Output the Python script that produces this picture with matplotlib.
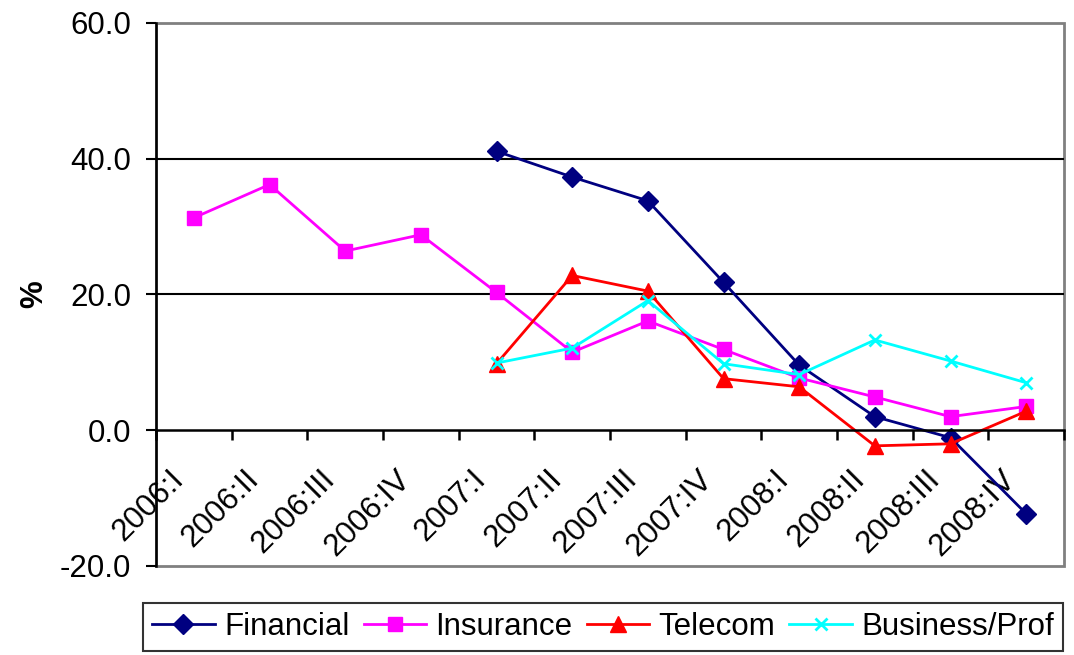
import numpy as np
import matplotlib.pyplot as plt
import matplotlib.transforms as mtransforms
from matplotlib.patches import Rectangle

plt.rcParams['font.family'] = ['Liberation Sans', 'DejaVu Sans']

quarters = ["2006:I", "2006:II", "2006:III", "2006:IV",
            "2007:I", "2007:II", "2007:III", "2007:IV",
            "2008:I", "2008:II", "2008:III", "2008:IV"]

nan = np.nan
financial = [nan, nan, nan, nan, 41.1, 37.3, 33.8, 21.8, 9.6, 2.0, -1.1, -12.3]
insurance = [31.3, 36.2, 26.4, 28.8, 20.3, 11.5, 16.1, 11.9, 7.7, 4.9, 2.0, 3.5]
telecom = [nan, nan, nan, nan, 9.8, 22.8, 20.5, 7.6, 6.4, -2.3, -2.0, 2.8]
business = [nan, nan, nan, nan, 9.9, 12.1, 19.1, 9.8, 8.2, 13.3, 10.2, 7.0]

yticks = [-20, 0, 20, 40, 60]
fs = 22.5

x = np.arange(len(quarters))

fig = plt.figure(figsize=(10.74, 6.55), dpi=100)
ax = fig.add_axes([0.1453, 0.1359, 0.8454, 0.829])

ax.plot(x, financial, color="#000080", marker="D", markersize=10, lw=2, label="Financial")
ax.plot(x, insurance, color="#FF00FF", marker="s", markersize=9.5, lw=2, label="Insurance")
ax.plot(x, telecom, color="#FF0000", marker="^", markersize=11, lw=2, label="Telecom")
ax.plot(x, business, color="#00FFFF", marker="x", markersize=9, mew=2, lw=2, label="Business/Prof")

ax.set_xlim(-0.5, len(quarters) - 0.5)
ax.set_ylim(-20, 60)
ax.set_yticks(yticks)
ax.set_yticklabels(["%.1f" % v for v in yticks], fontsize=fs)
for g in [20, 40]:
    ax.axhline(g, color="black", lw=1.5, zorder=0.5)

# category axis crosses at zero
ax.spines["bottom"].set_position(("data", 0))
ax.spines["bottom"].set_linewidth(1.8)
ax.spines["left"].set_linewidth(1.8)
for s in ["top", "right"]:
    ax.spines[s].set_visible(False)
ax.add_patch(Rectangle((0, 0), 1, 1, transform=ax.transAxes, fill=False,
                       edgecolor="#808080", lw=2, clip_on=False, zorder=0.4))

ax.set_xticks(x)
ax.set_xticklabels(quarters, fontsize=fs, rotation=45, ha="right", va="center",
                   rotation_mode="anchor")
ax.tick_params(axis="x", which="major", length=0, pad=32)
shift = mtransforms.ScaledTranslation(-15 / 100, 0, fig.dpi_scale_trans)
for lab in ax.get_xticklabels():
    lab.set_transform(lab.get_transform() + shift)
ax.set_xticks(np.arange(-0.5, len(quarters)), minor=True)
ax.tick_params(axis="x", which="minor", length=7, width=1.8, direction="out")
ax.tick_params(axis="y", length=7, width=1.5, direction="out", pad=11)

ax.set_ylabel("%", fontsize=fs, fontweight="bold")
ax.yaxis.set_label_coords(-0.118, 0.5)

leg = fig.legend(loc="upper left", bbox_to_anchor=(0.133, 0.08), ncol=4,
                 fontsize=fs, frameon=True, fancybox=False, edgecolor="black",
                 handlelength=2.0, columnspacing=0.45, handletextpad=0.3,
                 borderpad=0.3, borderaxespad=0)
leg.get_frame().set_linewidth(1.5)

fig.savefig("out.png", dpi=100)
